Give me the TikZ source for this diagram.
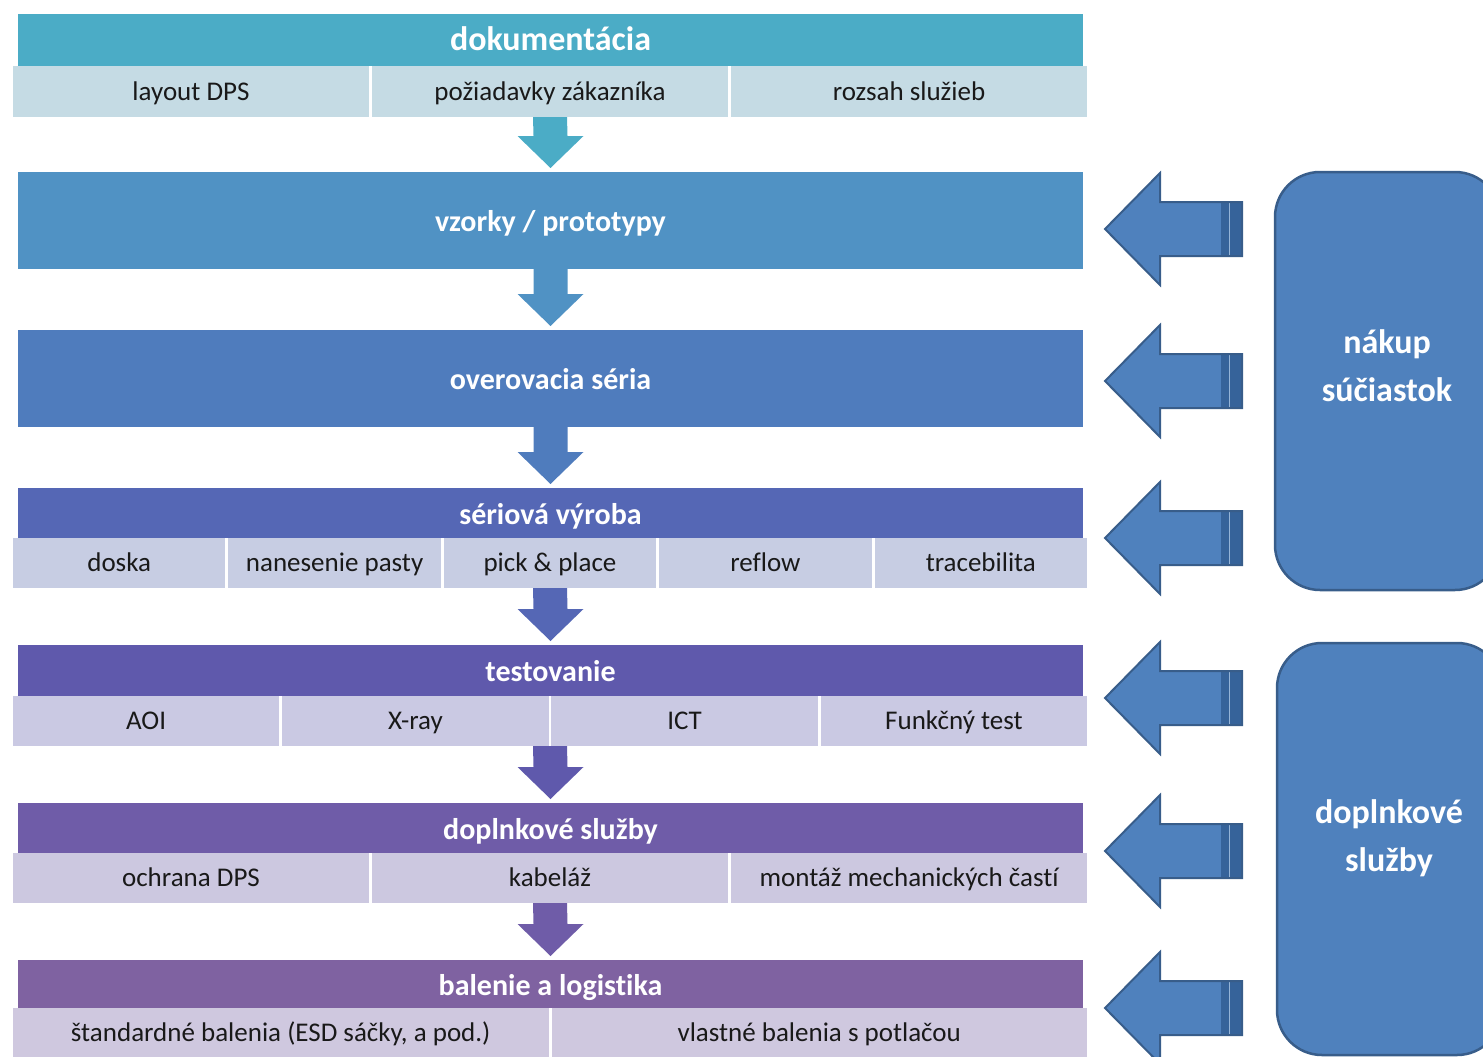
\documentclass[tikz,border=0pt]{standalone}
\usepackage{fontspec}
\setmainfont{Carlito}[Ligatures=NoCommon]
\usetikzlibrary{calc}
\usetikzlibrary{positioning}

\definecolor{dokc}{HTML}{4BACC6}
\definecolor{dokcell}{HTML}{C5DBE4}
\definecolor{vzc}{HTML}{5092C4}
\definecolor{ovc}{HTML}{4F7CBD}
\definecolor{serc}{HTML}{5567B5}
\definecolor{sercell}{HTML}{C7CDE3}
\definecolor{testc}{HTML}{5F59AC}
\definecolor{testcell}{HTML}{CAC9E3}
\definecolor{dopc}{HTML}{6F5CA8}
\definecolor{dopcell}{HTML}{CCC8E0}
\definecolor{balc}{HTML}{7F62A1}
\definecolor{balcell}{HTML}{CFC8DF}
\definecolor{sideblue}{HTML}{4F81BD}
\definecolor{sideedge}{HTML}{385D8A}
\definecolor{arrowdark}{HTML}{36639A}

\tikzset{
  bar/.style={rectangle, inner sep=0pt, outer sep=0pt, minimum width=1065pt, text=white,
    font=\bfseries\fontsize{30}{36}\selectfont, text height=28pt, text depth=6pt},
  rowbg/.style={rectangle, fill=white, inner sep=0pt, outer sep=0pt, minimum width=1074pt, minimum height=50pt},
  cell/.style={rectangle, inner sep=0pt, outer sep=0pt, minimum height=50pt, text=black!90,
    font=\fontsize{27}{32}\selectfont, text height=22pt, text depth=5pt},
  sidebox/.style={rectangle, rounded corners=45pt, fill=sideblue, draw=sideedge, line width=2.5pt, minimum width=225pt},
  sidetext/.style={text=white, align=center, font=\bfseries\fontsize{34}{48}\selectfont}
}

% down arrow between two blocks
\newcommand{\flowarrow}[3]{%
  \fill[#3] ($(#1.south)+(-17,0)$) -- ($(#1.south)+(17,0)$) -- ($(#2.north)+(17,-36)$)
    -- ($(#2.north)+(33,-36)$) -- ($(#2.north)+(0,-4)$) -- ($(#2.north)+(-33,-36)$)
    -- ($(#2.north)+(-17,-36)$) -- cycle;}

% side arrow pointing left, centred at height #1
\newcommand{\sidearrow}[1]{%
  \fill[sideblue] (1105,#1) -- (1160,#1-56) -- (1160,#1-27) -- (1242,#1-27) -- (1242,#1+27)
    -- (1160,#1+27) -- (1160,#1+56) -- cycle;
  \fill[arrowdark] (1221,#1-27) rectangle (1242,#1+27);
  \draw[sideblue!60!white, line width=1pt] (1229,#1-26) -- (1229,#1+26);
  \draw[sideedge, line width=2pt, line join=miter] (1105,#1) -- (1160,#1-56) -- (1160,#1-27) -- (1242,#1-27)
    -- (1242,#1+27) -- (1160,#1+27) -- (1160,#1+56) -- cycle;}

\begin{document}
\begin{tikzpicture}[x=1pt, y=-1pt]
  \useasboundingbox (0,0) rectangle (1483,1057);
  \clip (0,0) rectangle (1483,1057);

  % dokumentacia
  \node[bar, fill=dokc, minimum height=52pt, font=\bfseries\fontsize{34}{40}\selectfont] (dok) at (550.5,40) {dokumentácia};
  \node[rowbg, minimum height=51pt] (dokrow) at (550,91.5) {};
  \node[cell, fill=dokcell, minimum width=356pt, minimum height=51pt] (dok1) at (191,91.5) {layout DPS};
  \node[cell, fill=dokcell, minimum width=356pt, minimum height=51pt] (dok2) at (550,91.5) {požiadavky zákazníka};
  \node[cell, fill=dokcell, minimum width=356pt, minimum height=51pt] (dok3) at (909,91.5) {rozsah služieb};

  % vzorky, overovacia seria
  \node[bar, fill=vzc, minimum height=97pt] (vz) at (550.5,220.5) {vzorky / prototypy};
  \node[bar, fill=ovc, minimum height=97pt] (ov) at (550.5,378.5) {overovacia séria};

  % seriova vyroba
  \node[bar, fill=serc, minimum height=50pt] (ser) at (550.5,513) {sériová výroba};
  \node[rowbg] (serrow) at (550,563) {};
  \node[cell, fill=sercell, minimum width=212.4pt] (ser1) at (119.2,563) {doska};
  \node[cell, fill=sercell, minimum width=212.4pt] (ser2) at (334.6,563) {nanesenie pasty};
  \node[cell, fill=sercell, minimum width=212.4pt] (ser3) at (550,563) {pick \& place};
  \node[cell, fill=sercell, minimum width=212.4pt] (ser4) at (765.4,563) {reflow};
  \node[cell, fill=sercell, minimum width=212.4pt] (ser5) at (980.8,563) {tracebilita};

  % testovanie
  \node[bar, fill=testc, minimum height=51pt] (test) at (550.5,670.5) {testovanie};
  \node[rowbg] (testrow) at (550,721) {};
  \node[cell, fill=testcell, minimum width=266.25pt] (test1) at (146.1,721) {AOI};
  \node[cell, fill=testcell, minimum width=266.25pt] (test2) at (415.4,721) {X-ray};
  \node[cell, fill=testcell, minimum width=266.25pt] (test3) at (684.6,721) {ICT};
  \node[cell, fill=testcell, minimum width=266.25pt] (test4) at (953.9,721) {Funkčný test};

  % doplnkove sluzby
  \node[bar, fill=dopc, minimum height=50pt] (dop) at (550.5,828) {doplnkové služby};
  \node[rowbg] (doprow) at (550,878) {};
  \node[cell, fill=dopcell, minimum width=356pt] (dop1) at (191,878) {ochrana DPS};
  \node[cell, fill=dopcell, minimum width=356pt] (dop2) at (550,878) {kabeláž};
  \node[cell, fill=dopcell, minimum width=356pt] (dop3) at (909,878) {montáž mechanických častí};

  % balenie a logistika
  \node[bar, fill=balc, minimum height=48pt] (bal) at (550.5,984) {balenie a logistika};
  \node[rowbg] (balrow) at (550,1033) {};
  \node[cell, fill=balcell, minimum width=535.5pt] (bal1) at (280.75,1033) {štandardné balenia (ESD sáčky, a pod.)};
  \node[cell, fill=balcell, minimum width=535.5pt] (bal2) at (819.25,1033) {vlastné balenia s potlačou};

  % arrows down
  \flowarrow{dokrow}{vz}{dokc}
  \flowarrow{vz}{ov}{vzc}
  \flowarrow{ov}{ser}{ovc}
  \flowarrow{serrow}{test}{serc}
  \flowarrow{testrow}{dop}{testc}
  \flowarrow{doprow}{bal}{dopc}

  % side boxes
  \node[sidebox, minimum height=418pt] (nakup) at (1387.5,381) {};
  \node[sidetext] (nakuptxt) at (1387,366) {nákup\\súčiastok};
  \node[sidebox, minimum height=412pt] (doplnky) at (1389.5,849) {};
  \node[sidetext] (doplnkytxt) at (1389,838) {doplnkové\\služby};

  % side arrows
  \sidearrow{229}
  \sidearrow{381}
  \sidearrow{538}
  \sidearrow{698}
  \sidearrow{851}
  \sidearrow{1008}
\end{tikzpicture}
\end{document}
